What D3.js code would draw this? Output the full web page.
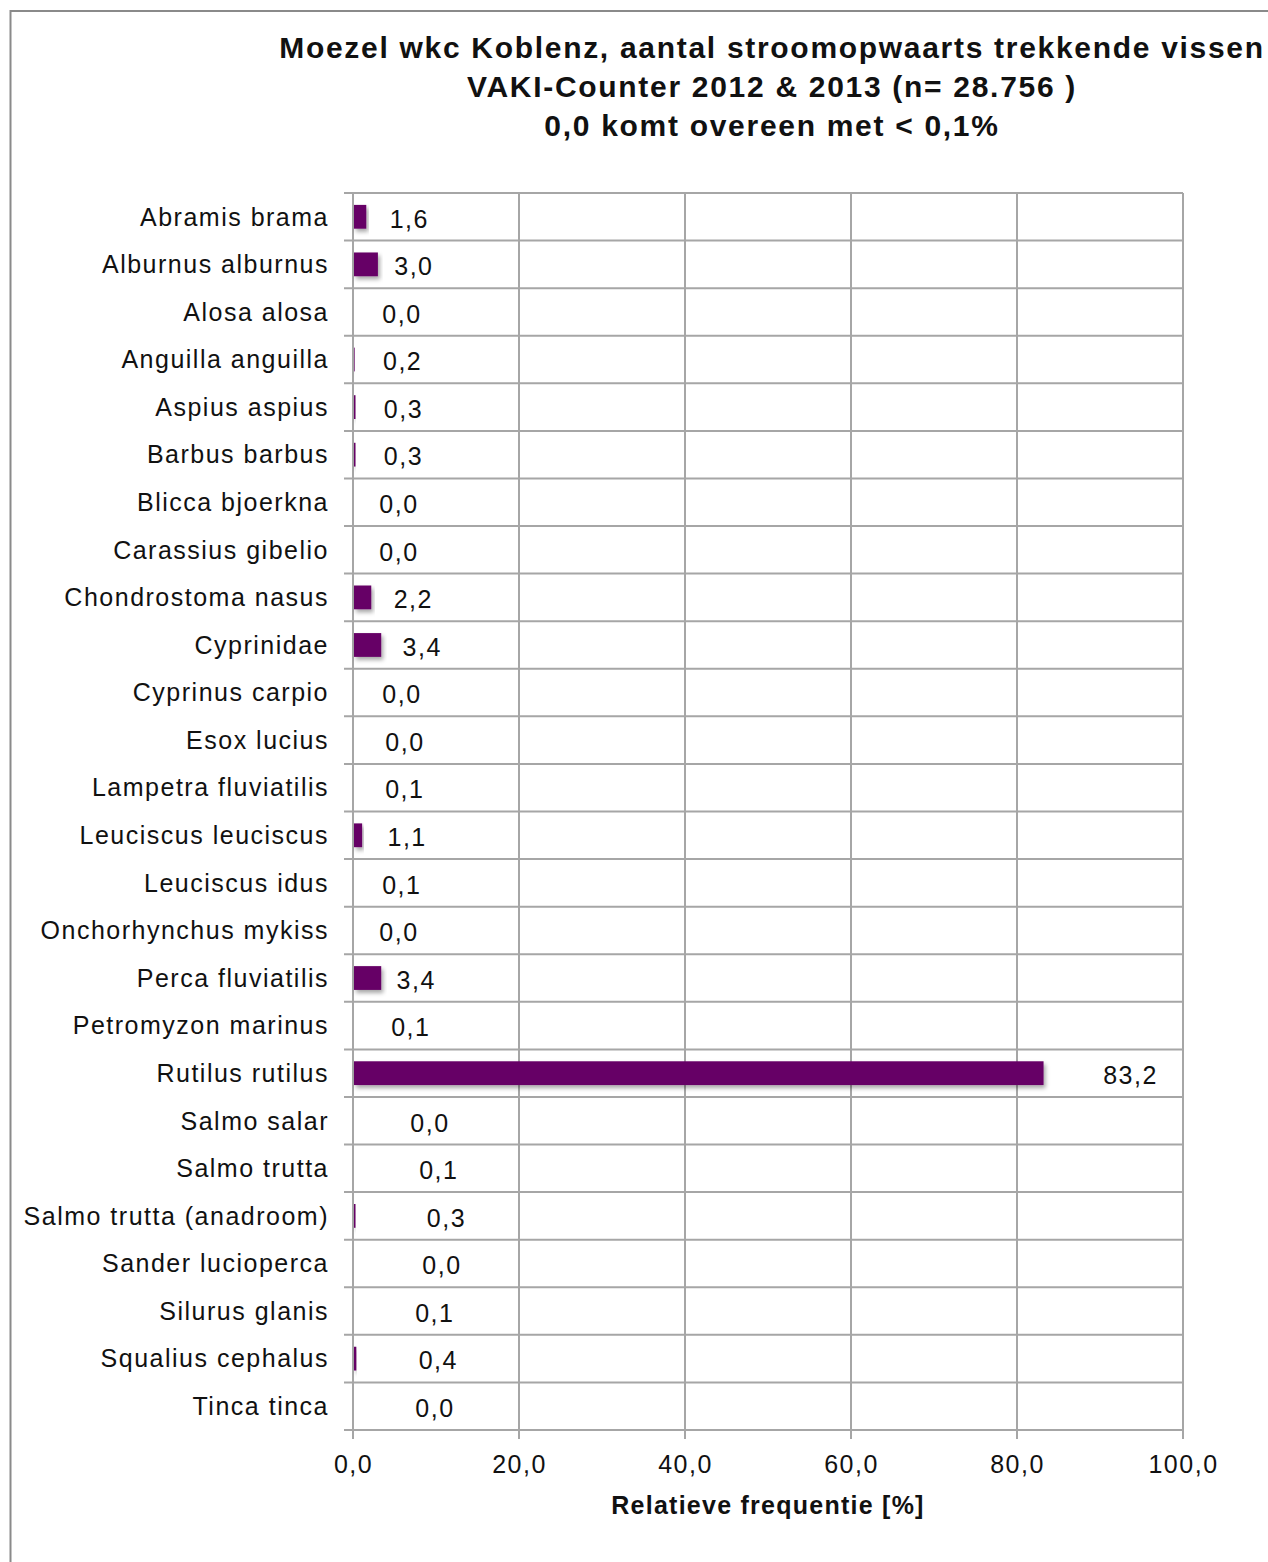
<!DOCTYPE html>
<html>
<head>
<meta charset="utf-8">
<script src="https://cdnjs.cloudflare.com/ajax/libs/d3/7.8.5/d3.min.js"></script>
<style>
  html, body { margin: 0; padding: 0; background: #fff; }
  svg { display: block; }
  text { font-family: "Liberation Sans", Arial, sans-serif; fill: #111; }
</style>
</head>
<body>
<script>
// Species (top to bottom) and their share of upstream migrating fish, in %
const species = [
  "Abramis brama", "Alburnus alburnus", "Alosa alosa", "Anguilla anguilla",
  "Aspius aspius", "Barbus barbus", "Blicca bjoerkna", "Carassius gibelio",
  "Chondrostoma nasus", "Cyprinidae", "Cyprinus carpio", "Esox lucius",
  "Lampetra fluviatilis", "Leuciscus leuciscus", "Leuciscus idus",
  "Onchorhynchus mykiss", "Perca fluviatilis", "Petromyzon marinus",
  "Rutilus rutilus", "Salmo salar", "Salmo trutta", "Salmo trutta (anadroom)",
  "Sander lucioperca", "Silurus glanis", "Squalius cephalus", "Tinca tinca"
];
const share = [
  1.6, 3.0, 0.0, 0.2, 0.3, 0.3, 0.0, 0.0, 2.2, 3.4, 0.0, 0.0, 0.1,
  1.1, 0.1, 0.0, 3.4, 0.1, 83.2, 0.0, 0.1, 0.3, 0.0, 0.1, 0.4, 0.0
];
const xTicks = [0, 20, 40, 60, 80, 100];
const titleLines = [
  "Moezel wkc Koblenz, aantal stroomopwaarts trekkende vissen",
  "VAKI-Counter 2012 & 2013 (n= 28.756 )",
  "0,0 komt overeen met < 0,1%"
];
const xTitle = "Relatieve frequentie [%]";

// Gap (px) between each bar end and the centre of its value label
const labelGap = [
  43, 36, 49, 48, 48, 48, 46, 46, 42, 41, 49, 52, 51,
  45, 48, 46, 35, 57, 87, 77, 85, 91, 89, 81, 82, 82
];

const W = 1268, H = 1562;
const plot = { left: 353, right: 1183, top: 193, bottom: 1430 };
const fmt = v => d3.format(".1f")(v).replace(".", ",");

const svg = d3.select("body").append("svg")
  .attr("width", W).attr("height", H);

const defs = svg.append("defs");
const shadow = defs.append("filter").attr("id", "barShadow")
  .attr("x", "-10%").attr("y", "-30%").attr("width", "130%").attr("height", "180%");
shadow.append("feDropShadow")
  .attr("dx", 2).attr("dy", 3).attr("stdDeviation", 2)
  .attr("flood-color", "#000").attr("flood-opacity", 0.35);

// outer chart frame
svg.append("rect")
  .attr("x", 10.5).attr("y", 11).attr("width", W).attr("height", H)
  .attr("fill", "none").attr("stroke", "#8a8a8a").attr("stroke-width", 2);

const x = d3.scaleLinear().domain([0, 100]).range([plot.left, plot.right]);
const y = d3.scaleBand().domain(species).range([plot.top, plot.bottom])
  .paddingInner(0.5).paddingOuter(0.25);

const gridColor = "#a6a6a6";

// horizontal category separators
const edges = d3.range(species.length + 1).map(i => plot.top + i * y.step());
svg.append("g").selectAll("line").data(edges).join("line")
  .attr("x1", plot.left - 9).attr("x2", plot.right)
  .attr("y1", d => d).attr("y2", d => d)
  .attr("stroke", gridColor).attr("stroke-width", 2);

// vertical grid lines (with tick stubs below the plot)
svg.append("g").selectAll("line").data(xTicks).join("line")
  .attr("x1", d => x(d)).attr("x2", d => x(d))
  .attr("y1", plot.top).attr("y2", plot.bottom + 9)
  .attr("stroke", gridColor).attr("stroke-width", 2);

// x axis tick labels
const xAxis = d3.axisBottom(x).tickValues(xTicks).tickFormat(fmt).tickSize(0).tickPadding(0);
const gx = svg.append("g").attr("transform", `translate(0,${plot.bottom})`).call(xAxis);
gx.select(".domain").remove();
gx.selectAll("text")
  .attr("y", 34).attr("dy", "0.35em")
  .style("font-size", "25px").style("letter-spacing", "1.5px")
  .style("font-family", '"Liberation Sans", Arial, sans-serif').attr("fill", "#111");

// y axis category labels
const yAxis = d3.axisLeft(y).tickSize(0).tickPadding(0);
const gy = svg.append("g").attr("transform", `translate(${plot.left - 24},0)`).call(yAxis);
gy.select(".domain").remove();
gy.selectAll("text")
  .attr("dy", "0.35em")
  .style("font-size", "25px").style("letter-spacing", "1.5px")
  .style("font-family", '"Liberation Sans", Arial, sans-serif').attr("fill", "#111");

// bars
svg.append("g").selectAll("rect").data(species).join("rect")
  .attr("x", x(0) + 1)
  .attr("y", d => y(d))
  .attr("width", (d, i) => Math.max(0, x(share[i]) - x(0) - 1))
  .attr("height", y.bandwidth())
  .attr("fill", "#660066")
  .attr("filter", "url(#barShadow)");

// value labels
svg.append("g").selectAll("text").data(species).join("text")
  .attr("x", (d, i) => x(share[i]) + labelGap[i])
  .attr("y", d => y(d) + y.bandwidth() / 2 + 2)
  .attr("dy", "0.35em")
  .attr("text-anchor", "middle")
  .style("font-size", "25px").style("letter-spacing", "1.5px")
  .text((d, i) => fmt(share[i]));

// title
svg.append("g").selectAll("text").data(titleLines).join("text")
  .attr("x", 772).attr("y", (d, i) => 47 + i * 39)
  .attr("dy", "0.35em")
  .attr("text-anchor", "middle")
  .style("font-size", "30px").style("font-weight", "bold")
  .style("letter-spacing", "1.7px")
  .text(d => d);

// x axis title
svg.append("text")
  .attr("x", 768).attr("y", 1505).attr("dy", "0.35em")
  .attr("text-anchor", "middle")
  .style("font-size", "25px").style("font-weight", "bold")
  .style("letter-spacing", "1.25px")
  .text(xTitle);
</script>
</body>
</html>
